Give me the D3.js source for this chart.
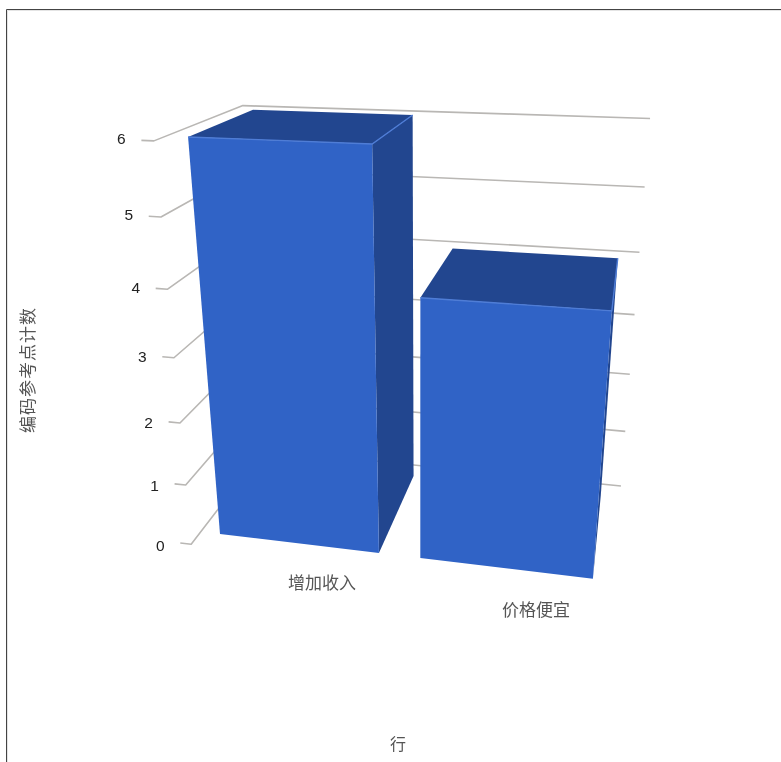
<!DOCTYPE html>
<html><head><meta charset="utf-8">
<script src="https://cdn.jsdelivr.net/npm/d3@7"></script>
<style>html,body{margin:0;padding:0;background:#fff;overflow:hidden}svg{display:block;filter:blur(0.4px)}</style>
</head><body><svg id="c" width="781" height="762"></svg>
<script>
const categories = ["增加收入", "价格便宜"];
const values = [6, 4];
const yTickValues = [0, 1, 2, 3, 4, 5, 6];
const yTitle = "编码参考点计数";
const xTitle = "行";

const colorFront = "#3063c6", colorDark = "#22468f", colorEdge = "#4f7dd6", colorGrid = "#b9b7b4";

// World scales: x spans the chart width, y the value axis, z the depth
const xScale = d3.scaleBand().domain(categories).range([0, 2.5]).paddingInner(0.2).paddingOuter(0.1);
const yScale = d3.scaleLinear().domain([0, 6]).range([0, 6]);
const zScale = d3.scaleLinear().domain([0, 1]).range([0.09, 1.09]);
const wallFront = -0.06, wallBack = 1.25;

// Camera: three vanishing points and the origin in the image
const origin = [195.08, 539.18];
const vpX = [-4630, -48, -0.03201];
const vpY = [420, 3023, -0.02313];
const vpZ = [653, -57, 0.1412];
function project(X, Y, Z) {
  const a = X * vpX[2], b = Y * vpY[2], c = Z * vpZ[2];
  const w = 1 + a + b + c;
  return [(origin[0] + a * vpX[0] + b * vpY[0] + c * vpZ[0]) / w,
          (origin[1] + a * vpX[1] + b * vpY[1] + c * vpZ[1]) / w];
}

const svg = d3.select("#c");
const line = d3.line();

// frame
svg.append("path").attr("d", "M6.5,762V9.5H781").attr("fill", "none").attr("stroke", "#444").attr("stroke-width", 1);
svg.append("path").attr("d", "M7.5,762V10.5H781").attr("fill", "none").attr("stroke", "#e4e4e4").attr("stroke-width", 1);

// gridlines: label stub, side wall, back wall
const stub = -0.07;
const grid = svg.append("g").attr("fill", "none").attr("stroke", colorGrid).attr("stroke-width", 1.6).attr("stroke-linejoin", "round");
yTickValues.forEach(v => {
  const y = yScale(v);
  grid.append("path").attr("d", line([
    project(stub, y, wallFront), project(0, y, wallFront),
    project(0, y, wallBack), project(2.5, y, wallBack)
  ]));
});

// tick labels
svg.append("g").selectAll("text").data(yTickValues).join("text")
  .attr("x", d => project(stub, yScale(d), wallFront)[0] - 20)
  .attr("y", d => project(stub, yScale(d), wallFront)[1] + 2.5 - 0.8 * d)
  .attr("text-anchor", "middle").attr("dominant-baseline", "central")
  .attr("font-family", "Liberation Sans, Arial, sans-serif").attr("font-size", 15.5).attr("fill", "#222")
  .text(d => d);

// bars
const bars = categories.map((c, i) => ({ c, v: values[i] }));
const barG = svg.append("g");
bars.forEach(d => {
  const x0 = xScale(d.c), x1 = x0 + xScale.bandwidth();
  const y0 = yScale(0), y1 = yScale(d.v), z0 = zScale(0), z1 = zScale(1);
  const side = [project(x1, y0, z0), project(x1, y0, z1), project(x1, y1, z1), project(x1, y1, z0)];
  const top = [project(x0, y1, z0), project(x1, y1, z0), project(x1, y1, z1), project(x0, y1, z1)];
  const front = [project(x0, y0, z0), project(x1, y0, z0), project(x1, y1, z0), project(x0, y1, z0)];
  barG.append("path").attr("d", line(side) + "Z").attr("fill", colorDark);
  barG.append("path").attr("d", line(top) + "Z").attr("fill", colorDark);
  barG.append("path").attr("d", line(front) + "Z").attr("fill", colorFront);
  barG.append("path").attr("d", line([project(x0, y1, z0), project(x1, y1, z0), project(x1, y1, z1)]))
    .attr("fill", "none").attr("stroke", colorEdge).attr("stroke-width", 1.4);
});

// category labels
const labelFont = "'Noto Sans CJK SC', sans-serif";
const labelPos = d => project(1.038 * (xScale(d) + xScale.bandwidth() / 2) + 0.116, -0.62, zScale(0));
svg.append("g").selectAll("text").data(categories).join("text")
  .attr("x", d => labelPos(d)[0])
  .attr("y", d => labelPos(d)[1])
  .attr("text-anchor", "middle").attr("dominant-baseline", "central")
  .attr("font-family", labelFont).attr("font-size", 17).attr("fill", "#555")
  .text(d => d);

// axis titles
svg.append("text").attr("x", 398).attr("y", 743)
  .attr("text-anchor", "middle").attr("dominant-baseline", "central")
  .attr("font-family", labelFont).attr("font-size", 16).attr("fill", "#555").text(xTitle);
svg.append("text").attr("transform", "translate(26,370) rotate(-90)")
  .attr("text-anchor", "middle").attr("dominant-baseline", "central")
  .attr("font-family", labelFont).attr("font-size", 17).attr("letter-spacing", 1).attr("fill", "#555").text(yTitle);
</script></body></html>
